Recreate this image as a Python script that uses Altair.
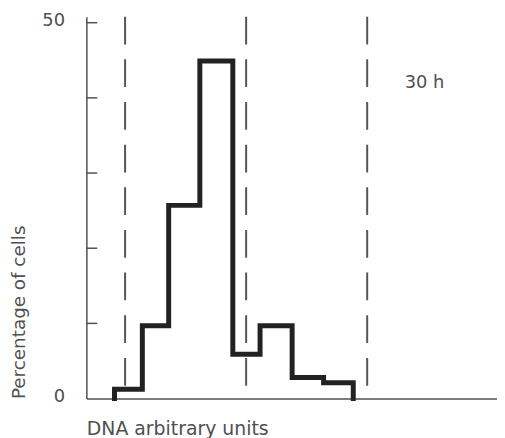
import altair as alt
import pandas as pd

# --- data ---
bin_edges = [0.93, 1.85, 2.72, 3.75, 4.84, 5.74, 6.80, 7.84, 8.82]
percent = [1.25, 9.7, 25.7, 44.9, 5.9, 9.7, 2.8, 2.1]
dashed_x = [1.28, 5.28, 9.28]
minor_ticks = [10, 20, 30, 40, 50]
label_values = [0, 50]
note_text = ["30 h"]
note_x = [10.52]
note_y = [41.3]

X_DOMAIN = [0, 13.57]
Y_DOMAIN = [0, 50.8]
FONT = "DejaVu Sans"
GRAY = "#505050"

# step outline of the histogram
xs, ys = [bin_edges[0]], [0.0]
for i, v in enumerate(percent):
    xs += [bin_edges[i], bin_edges[i + 1]]
    ys += [v, v]
xs.append(bin_edges[-1])
ys.append(0.0)
step = pd.DataFrame({"x": xs, "y": ys, "o": list(range(len(xs)))})

xscale = alt.Scale(domain=X_DOMAIN, nice=False, zero=False)
yscale = alt.Scale(domain=Y_DOMAIN, nice=False, zero=False)

hist = alt.Chart(step).mark_line(
    color="#222222", strokeWidth=5, strokeJoin="miter", strokeCap="square"
).encode(
    x=alt.X("x:Q", scale=xscale, axis=alt.Axis(
        labels=False, ticks=False, grid=False,
        domainColor=GRAY, domainWidth=1.5,
        title="DNA arbitrary units", titleFont=FONT, titleFontSize=19,
        titleFontWeight="normal", titleColor=GRAY,
        titleAnchor="start", titleAlign="left", titleBaseline="alphabetic",
        titleX=0, titleY=36)),
    y=alt.Y("y:Q", scale=yscale, axis=alt.Axis(
        values=label_values, ticks=False, grid=False,
        domainColor=GRAY, domainWidth=1.5,
        labelFont=FONT, labelFontSize=18, labelColor=GRAY, labelPadding=22,
        labelOffset=-2,
        title="Percentage of cells", titleFont=FONT, titleFontSize=18.5,
        titleFontWeight="normal", titleColor=GRAY,
        titleAngle=270, titleAlign="left", titleBaseline="alphabetic",
        titleX=-62, titleY=385)),
    order="o:Q",
)

dash_df = pd.DataFrame({"x": dashed_x, "top": [Y_DOMAIN[1]] * len(dashed_x), "bot": [0] * len(dashed_x)})
dashes = alt.Chart(dash_df).mark_rule(
    color="#555555", strokeWidth=2, strokeDash=[28, 15]
).encode(
    x=alt.X("x:Q", scale=xscale),
    y=alt.Y("top:Q", scale=yscale),
    y2="bot:Q",
)

tick_df = pd.DataFrame({"v": minor_ticks, "x0": [0] * len(minor_ticks), "x1": [0.36] * len(minor_ticks)})
ticks = alt.Chart(tick_df).mark_rule(color=GRAY, strokeWidth=1.5).encode(
    y=alt.Y("v:Q", scale=yscale),
    x=alt.X("x0:Q", scale=xscale),
    x2="x1:Q",
)

note_df = pd.DataFrame({"t": note_text, "x": note_x, "y": note_y})
note = alt.Chart(note_df).mark_text(
    align="left", baseline="alphabetic", font=FONT, fontSize=18, color=GRAY
).encode(
    x=alt.X("x:Q", scale=xscale),
    y=alt.Y("y:Q", scale=yscale),
    text="t:N",
)

chart = alt.layer(hist, dashes, ticks, note).properties(
    width=414, height=385,
    padding={"left": 79, "top": 7, "right": 0, "bottom": 38},
    autosize=alt.AutoSizeParams(type="none"),
    background="white",
).configure_axis(grid=False).configure_view(strokeWidth=0, stroke="transparent")

chart.save("out.html", embed_options={"renderer": "svg", "actions": False})
